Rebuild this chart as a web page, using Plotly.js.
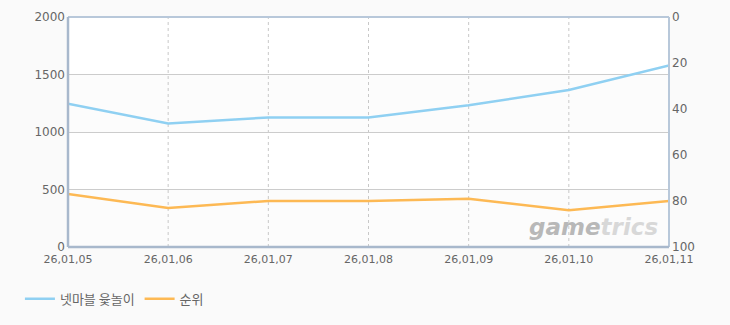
<!DOCTYPE html>
<html>
<head>
<meta charset="utf-8">
<script src="https://cdn.plot.ly/plotly-3.0.1.min.js"></script>
<style>html,body{margin:0;padding:0;background:#fafafa;}#chart{width:730px;height:325px;}</style>
</head>
<body>
<div id="chart"></div>
<script>
const categories = ["26,01,05","26,01,06","26,01,07","26,01,08","26,01,09","26,01,10","26,01,11"];
const seriesNames = ["넷마블 윷놀이", "순위"];
const playValues = [1245, 1075, 1127, 1127, 1233, 1366, 1578];
const rankValues = [77, 83, 80, 80, 79, 84, 80];
const leftTicks = [0, 500, 1000, 1500, 2000];
const rightTicks = [0, 20, 40, 60, 80, 100];

const idx = categories.map((c, i) => i);
const traces = [
  {x: idx, y: playValues, name: seriesNames[0], type: "scatter", mode: "lines",
   line: {color: "#8fd0f2", width: 2.5}, yaxis: "y", hoverinfo: "none"},
  {x: idx, y: rankValues, name: seriesNames[1], type: "scatter", mode: "lines",
   line: {color: "#fdb954", width: 2.5}, yaxis: "y2", hoverinfo: "none"}
];

const shapes = [];
[[0,500],[1000,1500]].forEach(b => shapes.push({type:"rect", xref:"paper", yref:"y", x0:0, x1:1, y0:b[0], y1:b[1], fillcolor:"#fcfcfc", line:{width:0}, layer:"below"}));
idx.slice(1, -1).forEach(i => shapes.push({type:"line", xref:"x", yref:"paper", x0:i, x1:i, y0:0, y1:1, line:{color:"#c8c8c8", width:1, dash:"3px,3px"}, layer:"below"}));
shapes.push({type:"line", xref:"paper", yref:"paper", x0:0, x1:1, y0:1, y1:1, line:{color:"#b8c8da", width:2}});
shapes.push({type:"line", xref:"paper", yref:"paper", x0:1, x1:1, y0:0, y1:1, line:{color:"#b8c8da", width:2}});
shapes.push({type:"line", xref:"paper", yref:"paper", x0:0, x1:1, y0:0, y1:0, line:{color:"#a8b8cc", width:2.5}});
shapes.push({type:"line", xref:"paper", yref:"paper", x0:0, x1:0, y0:0, y1:1, line:{color:"#a8b8cc", width:2.5}});

const layout = {
  width: 730, height: 325,
  margin: {l: 68, r: 61, t: 17, b: 77, pad: 0},
  paper_bgcolor: "#fafafa", plot_bgcolor: "#ffffff",
  font: {family: "DejaVu Sans, Noto Sans CJK KR, sans-serif", size: 11, color: "#666"},
  showlegend: true,
  legend: {orientation: "h", x: -0.08, y: -0.22, xanchor: "left", yanchor: "middle",
           font: {size: 13, color: "#666", family: "Noto Sans CJK KR, sans-serif"}, bgcolor: "rgba(0,0,0,0)", itemwidth: 30},
  xaxis: {range: [0, 6], tickvals: idx, ticktext: categories, showgrid: false, zeroline: false,
          showline: false, ticks: "", ticklabelstandoff: 4, tickfont: {size: 11, color: "#666"}, fixedrange: true},
  yaxis: {range: [0, 2000], tickvals: leftTicks, showgrid: true, gridcolor: "#cccccc", gridwidth: 1,
          zeroline: false, showline: false, ticks: "", ticklabelstandoff: 2, tickfont: {size: 12, color: "#666"}},
  yaxis2: {range: [100, 0], tickvals: rightTicks, overlaying: "y", side: "right", showgrid: false,
           zeroline: false, showline: false, ticks: "", ticklabelstandoff: 2, tickfont: {size: 12, color: "#666"}},
  shapes: shapes,
  annotations: [{xref: "paper", yref: "paper", x: 0.985, y: 0.02, xanchor: "right", yanchor: "bottom",
    text: "<b><i><span style='color:#b8b8b8'>game</span><span style='color:#d8d8d8'>trics</span></i></b>",
    showarrow: false, font: {size: 23, family: "DejaVu Sans, sans-serif"}}]
};

Plotly.newPlot("chart", traces, layout, {staticPlot: true, displayModeBar: false});
</script>
</body>
</html>
